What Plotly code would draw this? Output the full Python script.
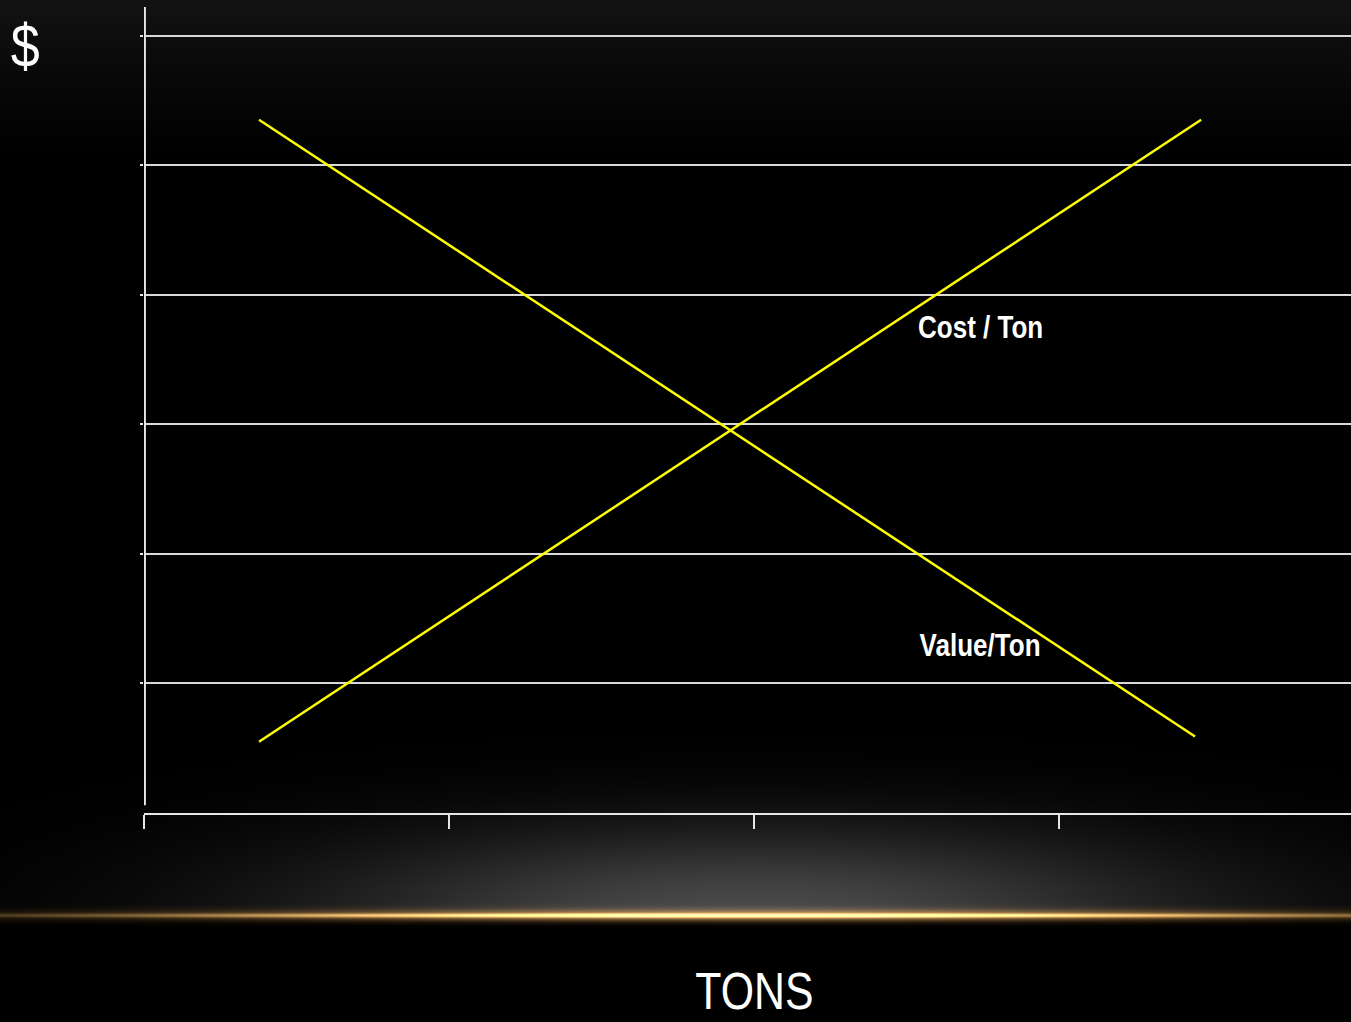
import base64, struct, zlib
import numpy as np
import plotly.graph_objects as go

# ---- data ----
value_tons = [0.377, 3.446]
value_per_ton = [5.35, 0.59]
cost_tons = [0.377, 3.466]
cost_per_ton = [0.55, 5.35]
x_ticks = [0, 1, 2, 3]
y_ticks = [1, 2, 3, 4, 5, 6]
labels = ["Cost / Ton", "Value/Ton"]
label_x = [2.741, 2.741]
label_y = [3.75, 1.296]

W, H = 1351, 1022
L, R, T, B = 144, 0, 7, 209
plot_w = W - L - R
plot_h = H - T - B
FONT = "Liberation Sans Narrow, Arial Narrow, Liberation Sans, Arial"


def png_uri(arr):
    h, w, _ = arr.shape
    raw = b"".join(b"\x00" + arr[i].tobytes() for i in range(h))
    def chunk(tag, data):
        c = struct.pack(">I", len(data)) + tag + data
        return c + struct.pack(">I", zlib.crc32(tag + data) & 0xFFFFFFFF)
    png = b"\x89PNG\r\n\x1a\n" + chunk(b"IHDR", struct.pack(">IIBBBBB", w, h, 8, 2, 0, 0, 0))
    png += chunk(b"IDAT", zlib.compress(raw, 9)) + chunk(b"IEND", b"")
    return "data:image/png;base64," + base64.b64encode(png).decode()


# background: top gradient, bottom glow, golden line
yy, xx = np.mgrid[0:H, 0:W].astype(float)
top = 19 * np.clip(1 - yy / 170, 0, 1) ** 1.3
dx = xx - 754
dy = yy - 915
glow = 74 * np.exp(-((dx / 450) ** 2 + (dy / 88) ** 2))
glow = np.where(dy > 0, 74 * np.exp(-(dx / 450) ** 2) * np.exp(-(dy / 5) ** 2), glow)
gray = top + glow
fx = np.exp(-(dx / 620) ** 2)
core = np.exp(-(dy / 2.0) ** 2) * fx
halo = np.exp(-(dy / 6.0) ** 2) * fx
img = np.stack([gray, gray, gray], axis=-1)
img += core[..., None] * np.array([210, 175, 105])
img += halo[..., None] * np.array([120, 75, 20])
img = np.clip(img, 0, 255).astype(np.uint8)
bg_uri = png_uri(img)

fig = go.Figure()
fig.add_trace(go.Scatter(x=value_tons, y=value_per_ton, mode="lines",
                         line=dict(color="#ffff00", width=2.5), name="Value/Ton"))
fig.add_trace(go.Scatter(x=cost_tons, y=cost_per_ton, mode="lines",
                         line=dict(color="#ffff00", width=2.5), name="Cost / Ton"))

for t, lx, ly in zip(labels, label_x, label_y):
    fig.add_annotation(x=lx, y=ly, text=t, showarrow=False, xanchor="center", yanchor="middle",
                       font=dict(family=FONT, size=31, color="white", weight="bold"))

# y axis line (stops short of x axis)
fig.add_shape(type="line", xref="x", yref="y", x0=0.003, x1=0.003, y0=0.06, y1=6.22,
              line=dict(color="#e6e6e6", width=2))

fig.add_layout_image(dict(source=bg_uri, xref="paper", yref="paper",
                          x=-L / plot_w, y=1 + T / plot_h,
                          sizex=W / plot_w, sizey=H / plot_h,
                          xanchor="left", yanchor="top", sizing="stretch", layer="below"))

# axis titles as text
fig.add_annotation(xref="paper", yref="paper", x=(25 - L) / plot_w, y=1 + (T - 45) / plot_h,
                   xanchor="center", yanchor="middle",
                   text="$", showarrow=False,
                   font=dict(family=FONT, size=62, color="white"))
fig.add_annotation(xref="paper", yref="paper", x=(754 - L) / plot_w, y=-(B - 1) / plot_h,
                   xanchor="center", yanchor="bottom", borderpad=0,
                   text="TONS", showarrow=False,
                   font=dict(family=FONT, size=51, color="white"))

fig.update_layout(
    width=W, height=H,
    margin=dict(l=L, r=R, t=T, b=B),
    paper_bgcolor="black", plot_bgcolor="rgba(0,0,0,0)",
    showlegend=False,
    xaxis=dict(range=[0, plot_w / 305], tickvals=x_ticks, showticklabels=False,
               ticks="outside", ticklen=14, tickwidth=2, tickcolor="#e6e6e6",
               showline=True, linecolor="#e6e6e6", linewidth=2,
               showgrid=False, zeroline=False),
    yaxis=dict(range=[0, 6.22], tickvals=y_ticks, showticklabels=False,
               ticks="outside", ticklen=3, tickwidth=2, tickcolor="#e6e6e6",
               showline=False, showgrid=True, gridcolor="#d9d9d9", gridwidth=1.5,
               zeroline=False),
)

post = """
document.body.style.margin='0';
document.querySelectorAll('.annotation-text').forEach(function(el){
  el.style.transformBox='fill-box';
  el.style.transformOrigin='center';
  el.style.transform='scaleX(0.84)';
});
"""
fig.write_html("out.html", config={"displayModeBar": False}, post_script=post)
